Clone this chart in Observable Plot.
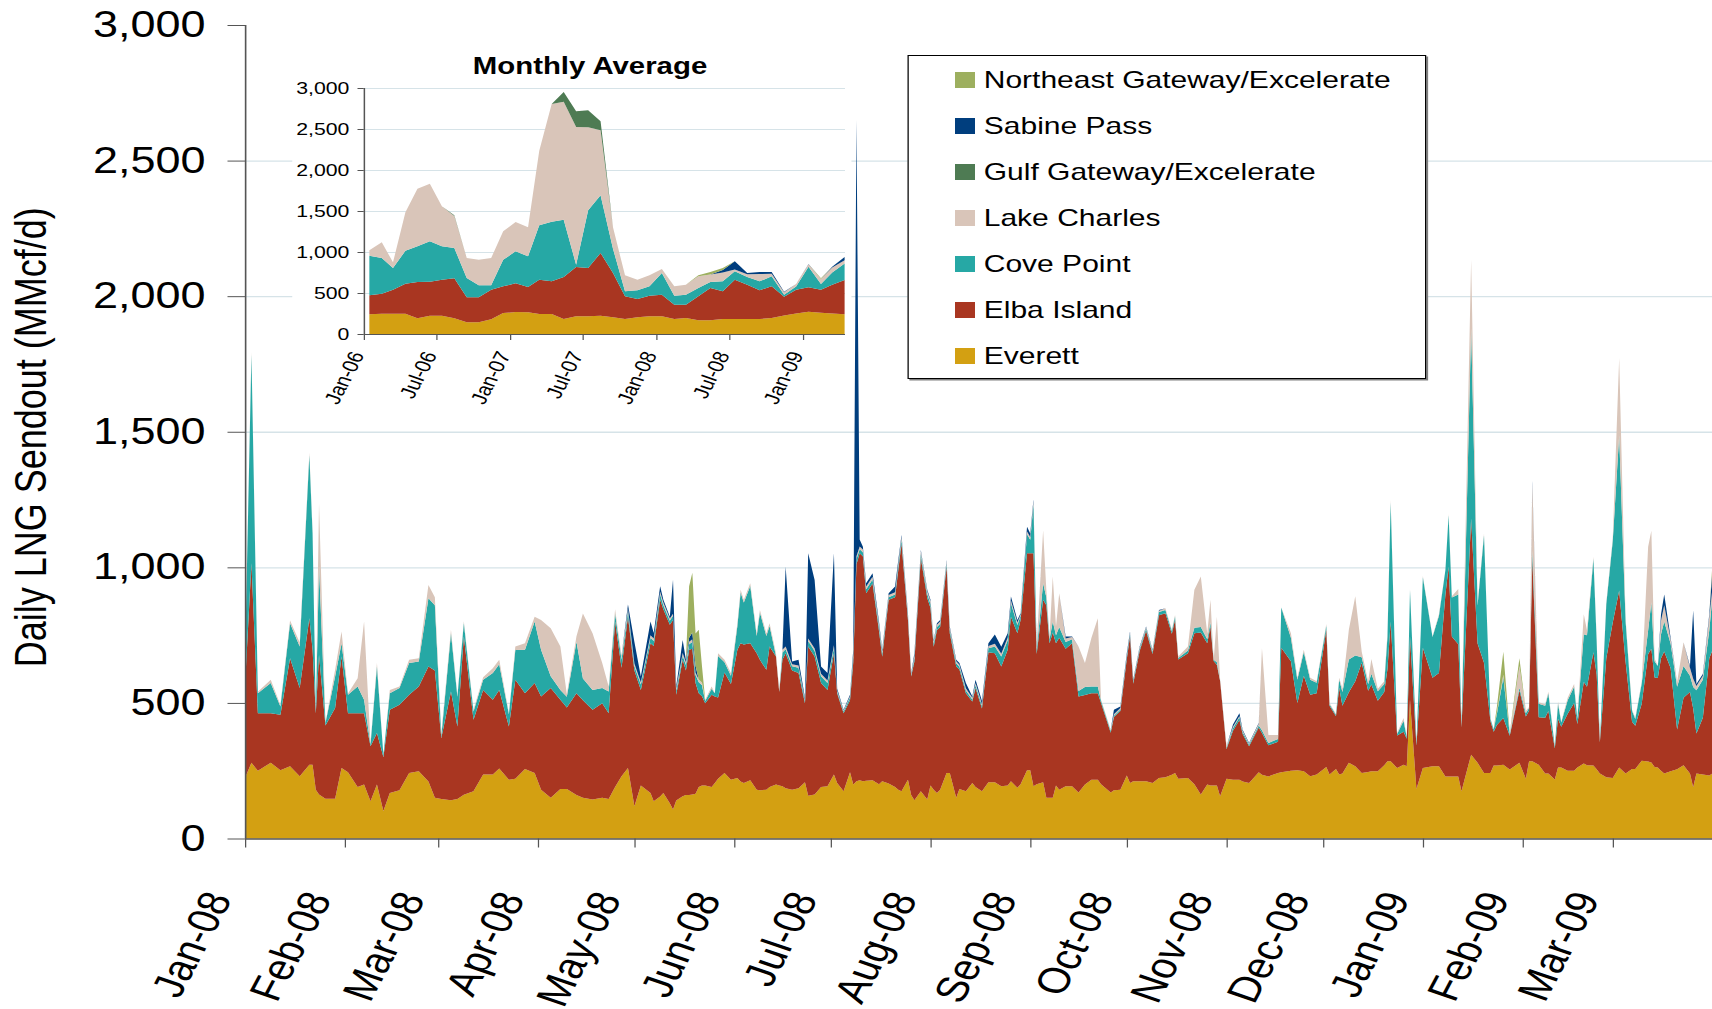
<!DOCTYPE html>
<html><head><meta charset="utf-8">
<script src="https://cdn.jsdelivr.net/npm/d3@7"></script>
<script src="https://cdn.jsdelivr.net/npm/@observablehq/plot@0.6"></script>
<style>
html,body{margin:0;padding:0;background:#fff;overflow:hidden;}
#stage{position:relative;width:1370px;height:1009px;transform:scaleX(1.25);transform-origin:0 0;font-family:"Liberation Sans",Arial,sans-serif;}
#main{position:absolute;left:0;top:0;}
#inset{position:absolute;left:234px;top:40px;background:#fff;}
#legend{position:absolute;left:726px;top:55px;width:415px;height:324px;box-sizing:border-box;border:1px solid #000;box-shadow:1.5px 1.5px 0 #808080;background:#fff;padding-top:1px;}
.row{height:46px;display:flex;align-items:center;}
.sw{width:16px;height:16px;margin-left:37px;margin-right:7px;flex:none;}
.lab{font-size:24px;color:#000;white-space:nowrap;}
</style></head>
<body><div id="stage"><div id="main"></div><div id="inset"></div><div id="legend"></div></div>
<script>
// ---------- categories / series ----------
const seriesNames = ["Everett","Elba Island","Cove Point","Lake Charles","Gulf Gateway/Excelerate","Sabine Pass","Northeast Gateway/Excelerate"];
const seriesColors = ["#D3A012","#A93621","#26A8A5","#D9C5B9","#4E7B53","#003E7E","#9DAF5F"];
const legendOrder = ["Northeast Gateway/Excelerate","Sabine Pass","Gulf Gateway/Excelerate","Lake Charles","Cove Point","Elba Island","Everett"];
const yTicks = [0,500,1000,1500,2000,2500,3000];
const xTickMonths = ["2008-01-01","2008-02-01","2008-03-01","2008-04-01","2008-05-01","2008-06-01","2008-07-01","2008-08-01","2008-09-01","2008-10-01","2008-11-01","2008-12-01","2009-01-01","2009-02-01","2009-03-01"];
const insetXTickMonths = ["2006-01-01","2006-07-01","2007-01-01","2007-07-01","2008-01-01","2008-07-01","2009-01-01"];
const insetYTicks = [0,500,1000,1500,2000,2500,3000];

// ---------- daily sendout (MMcf/d), days counted from 2008-01-01 ----------
const dailyStart = "2008-01-01";
const dailyEnd = "2009-04-01";
const dayOffset = [
0,2,4,8,11,14,17,20,21,22,
23,25,28,30,32,35,37,39,41,43,
45,48,51,54,57,59,61,64,66,68,
71,74,77,79,82,84,87,90,92,95,
98,100,103,105,108,111,113,115,117,119,
121,123,126,127,129,130,132,133,134,136,
137,138,139,140,141,142,143,145,146,147,
149,151,153,154,155,157,159,160,162,163,
165,166,167,168,170,172,174,175,177,179,
181,183,184,186,188,189,190,191,192,193,
195,197,198,200,202,203,204,206,207,208,
210,212,213,214,215,216,218,219,221,222,
224,226,227,229,231,233,235,237,238,240,
241,243,244,245,246,248,249,250,251,252,
253,255,257,259,261,263,265,266,269,270,
272,274,275,276,278,280,282,284,286,288,
289,290,293,295,297,299,300,301,302,303,
305,307,309,310,312,315,316,318,321,322,
325,327,329,331,333,336,337,339,340,341,
343,345,347,349,350,352,354,355,356,358,
360,361,362,364,366,369,371,373,374,375,
377,378,381,383,385,387,388,389,391,393,
396,398,399,400,402,404,405,407,408,409,
411,413,414,416,417,419,420,421,423,425,
427,429,431,432,434,436,437,438,439,440,
441,443,445,447,449,450,451,453,455,456];
const everett = [
223,279,250,279,252,266,230,272,272,180,
162,147,147,260,244,190,199,137,199,101,
168,178,242,248,210,150,146,141,146,161,
174,236,236,258,217,220,256,242,180,150,
183,183,160,150,144,150,146,190,230,260,
119,195,168,137,155,168,130,107,140,156,
160,160,162,165,190,195,195,190,205,220,
242,217,223,210,205,215,180,178,180,190,
199,195,193,185,180,185,207,158,162,190,
193,236,205,174,244,199,211,215,211,213,
215,200,211,203,190,180,174,217,160,141,
174,144,195,180,168,180,242,242,150,183,
174,205,190,174,207,207,193,195,211,187,
200,252,252,193,200,207,150,150,150,195,
180,193,193,170,199,217,217,200,170,178,
180,232,205,211,211,211,205,223,226,235,
242,220,223,200,162,199,195,195,195,156,
220,217,217,210,205,244,235,229,242,244,
250,252,248,230,236,264,236,256,236,240,
279,266,242,245,248,248,270,285,285,260,
272,266,512,183,260,266,266,229,229,229,
229,174,309,279,242,242,269,269,272,254,
279,220,285,285,272,240,240,218,262,262,
250,250,262,277,270,269,255,240,226,223,
262,240,256,256,287,284,280,264,262,250,
240,248,255,270,240,189,240,236,232,240];
const elbaIsland = [
340,736,212,183,204,399,325,540,424,282,
515,270,334,411,218,272,263,203,190,200,
307,315,288,313,424,470,225,401,267,584,
264,312,276,290,196,365,280,331,344,405,
329,300,376,360,331,349,316,610,400,558,
501,353,552,573,725,677,658,699,390,503,
460,536,538,408,346,330,304,340,319,300,
370,353,473,510,510,505,503,481,442,518,
472,345,467,498,440,425,292,550,509,383,
355,447,331,288,266,450,800,837,830,691,
725,565,459,677,700,810,914,589,437,512,
860,743,655,527,600,600,760,515,484,440,
362,300,365,305,480,476,441,501,607,570,
606,800,800,859,480,673,710,570,610,525,
560,507,527,354,330,319,319,300,220,270,
290,430,540,360,480,555,475,600,605,520,
565,440,460,557,598,521,587,460,445,425,
110,180,220,175,135,165,154,115,115,459,
404,248,352,300,300,506,254,195,320,250,
260,314,406,300,320,260,270,340,514,120,
122,102,233,160,443,327,344,670,773,516,
487,236,871,440,406,190,125,150,172,125,
267,230,186,747,175,205,230,115,180,150,
210,250,160,300,290,418,350,115,439,574,
653,411,175,160,210,396,420,330,330,415,
450,380,147,249,300,290,147,209,433,455];
const covePoint = [
100,769,74,111,31,129,153,601,429,10,
325,9,116,49,68,99,50,6,245,8,
61,62,117,92,252,240,6,215,110,50,
30,37,98,95,45,110,160,227,172,43,
36,40,190,80,73,56,80,30,30,20,
15,20,20,18,20,15,15,15,15,15,
20,20,25,30,40,40,8,22,12,153,
38,30,88,187,155,211,64,174,125,76,
2,3,26,15,15,20,8,20,20,25,
25,20,5,6,10,20,20,15,15,15,
15,15,12,10,10,15,15,10,5,12,
15,15,15,12,12,12,12,12,12,10,
10,8,10,10,15,25,37,35,50,30,
15,70,50,180,15,61,30,15,40,30,
40,25,15,20,30,25,25,8,6,5,
6,8,8,6,8,8,8,12,12,10,
12,6,10,20,20,15,15,4,10,2,
5,10,10,8,6,8,10,8,10,149,
86,85,88,55,38,15,5,5,30,50,
121,95,20,25,40,35,30,120,440,5,
40,5,171,6,260,150,211,90,190,144,
184,4,701,140,470,10,8,40,150,5,
10,12,10,29,50,45,65,6,55,16,
50,60,20,176,190,345,125,2,200,300,
571,150,40,25,75,88,171,60,44,88,
110,90,158,117,60,80,160,140,103,200];
const lakeCharles = [
5,10,5,12,5,10,15,10,10,0,
233,0,25,43,5,30,288,5,13,0,
12,6,12,12,49,30,12,13,5,6,
7,10,18,16,4,13,24,18,110,177,
160,10,20,240,209,92,19,15,15,10,
10,8,10,10,10,10,8,8,8,10,
10,10,10,8,10,10,5,9,0,10,
9,10,10,10,10,10,10,10,10,10,
10,5,10,10,8,8,5,10,10,10,
10,10,5,4,5,10,10,10,10,10,
10,10,8,8,8,10,10,8,5,8,
10,10,10,8,8,8,8,8,8,8,
8,6,8,6,8,10,10,10,10,10,
5,10,10,10,8,196,27,10,166,32,
124,13,8,164,88,178,251,4,5,5,
5,5,5,4,5,5,5,5,6,5,
5,5,15,140,186,21,83,0,168,2,
5,5,5,4,3,6,303,30,15,0,
17,8,8,8,6,6,5,3,7,12,
110,218,21,10,54,9,10,12,9,4,
10,2,4,2,5,2,6,0,5,4,
20,2,253,7,7,2,2,6,10,3,
80,9,4,247,5,5,6,3,7,3,
9,10,3,74,18,7,9,1,6,8,
286,11,4,4,5,308,264,11,0,50,
60,15,17,88,30,30,15,15,50,30];
const sabinePass = [
0,0,0,0,0,0,0,0,0,0,
0,0,0,0,0,0,0,0,0,0,
0,0,0,0,0,0,0,0,0,0,
0,0,0,0,0,0,0,0,0,0,
0,0,0,0,0,0,0,0,0,15,
80,21,50,20,20,10,7,125,8,48,
9,14,25,25,0,0,0,0,0,0,
0,0,0,0,0,0,0,0,0,0,
0,0,0,294,10,21,7,314,252,26,
27,339,7,3,5,17,1609,26,10,12,
13,10,6,6,21,12,6,7,3,10,
5,5,5,5,6,6,5,5,5,6,
19,5,12,12,10,34,26,16,14,9,
5,18,13,8,5,0,0,0,0,0,
0,7,2,0,0,0,0,0,0,17,
6,8,5,4,4,3,3,3,0,0,
0,0,0,0,0,0,0,0,0,0,
0,8,10,4,3,3,0,0,0,0,
0,0,0,0,0,0,0,0,0,0,
0,0,0,0,0,0,0,0,0,0,
0,0,0,0,0,0,0,0,0,0,
0,0,0,0,0,0,0,0,0,0,
0,0,0,10,0,0,0,0,0,0,
0,0,0,0,0,0,0,0,0,0,
0,0,0,0,0,0,0,0,0,24,
40,6,0,0,6,252,8,7,9,70];
const northeastGateway = [
0,0,0,0,0,0,0,0,0,0,
0,0,0,0,0,0,0,0,0,0,
0,0,0,0,0,0,0,0,0,0,
0,0,0,0,0,0,0,0,0,0,
0,0,0,0,0,0,0,0,0,0,
0,0,0,0,0,0,0,0,0,0,
0,190,220,120,184,60,0,0,0,0,
0,0,0,0,0,0,0,0,0,0,
0,0,0,0,0,0,0,0,0,0,
0,0,0,0,0,0,0,0,0,0,
0,0,0,0,0,0,0,0,0,0,
0,0,0,0,0,0,0,0,0,0,
0,0,0,0,0,0,0,0,0,0,
0,0,0,0,0,0,0,0,0,0,
0,0,0,0,0,0,0,0,0,0,
0,0,0,0,0,0,0,0,0,0,
0,0,0,0,0,0,0,0,0,0,
0,0,0,0,0,0,0,0,0,0,
0,0,0,0,0,0,0,0,0,0,
0,0,0,0,0,0,0,0,0,0,
0,0,0,0,0,0,0,0,0,0,
0,0,0,0,0,0,0,20,85,2,
29,0,0,0,0,0,0,0,0,0,
0,0,0,0,0,0,0,0,0,0,
0,0,0,0,0,0,0,0,0,0,
0,0,0,0,0,0,0,0,0,22];

// ---------- monthly averages Jan-06 .. Apr-09 ----------
const insetStartYear = 2006;
const mEverett = [240,248,248,248,191,224,224,191,142,142, 180,256,268,264,244,244,183,215,215,224, 203,183,203,215,215,183,195,167,167,183, 183,183,183,195,225,250,270,260,250,240];
const mElba    = [232,244,292,366,443,414,439,488,305,305, 360,325,350,309,419,398,512,602,590,764, 541,276,224,252,265,175,163,292,394,337, 480,419,350,386,230,290,300,280,350,420];
const mCove    = [483,435,265,402,435,492,406,370,236,146, 53,325,390,374,662,728,699,29,703,703, 297,61,106,114,264,109,122,102,73,122, 101,93,109,122,25,40,250,70,150,200];
const mLake    = [65,191,69,468,703,703,488,390,244,313, 334,346,358,354,911,1435,1439,1678,1012,793, 260,195,130,134,49,114,122,144,92,108, 22,34,89,33,30,30,30,60,60,40];
const mGulf    = [0,0,0,0,0,0,0,8,0,0, 0,0,0,0,0,0,118,191,208,110, 0,0,0,0,0,0,0,0,0,0, 0,0,0,0,0,0,0,0,0,0];
const mSabine  = [0,0,0,0,0,0,0,0,0,0, 0,0,0,0,0,0,0,0,0,0, 0,0,0,0,0,0,0,0,0,30, 100,15,25,20,5,0,5,0,10,40];
const mNortheast=[0,0,0,0,0,0,0,0,0,0, 0,0,0,0,0,0,0,0,0,0, 0,0,0,0,0,0,0,10,30,25, 0,0,0,0,0,0,0,10,0,0];

// ---------- build tables ----------
const DAY = 864e5;
const t0 = new Date(dailyStart + "T00:00:00Z").getTime();
const dailyDates = dayOffset.map(d => new Date(t0 + d * DAY));
const dailyCols = [["Everett",everett],["Elba Island",elbaIsland],["Cove Point",covePoint],["Lake Charles",lakeCharles],["Sabine Pass",sabinePass],["Northeast Gateway/Excelerate",northeastGateway]];
const daily = [];
dailyDates.forEach((date,i) => { for (const [s,arr] of dailyCols) daily.push({date, series:s, value:arr[i]}); });

const monthCols = [["Everett",mEverett],["Elba Island",mElba],["Cove Point",mCove],["Lake Charles",mLake],["Gulf Gateway/Excelerate",mGulf],["Sabine Pass",mSabine],["Northeast Gateway/Excelerate",mNortheast]];
const monthly = [];
mEverett.forEach((_,k) => { const date = new Date(Date.UTC(insetStartYear, k, 15)); for (const [s,arr] of monthCols) monthly.push({date, series:s, value:arr[k]}); });

const fmtMonth = d3.utcFormat("%b-%y");
const toDate = s => new Date(s + "T00:00:00Z");
const font = "Liberation Sans, Arial, sans-serif";
const axisColor = "#555";
const gridColor = "#d6e3e8";

// ---------- main chart ----------
const xTicks = xTickMonths.map(toDate);
const main = Plot.plot({
  width: 1370, height: 1009,
  marginLeft: 196, marginRight: 0, marginTop: 25, marginBottom: 170.5,
  style: {fontFamily: font, background: "transparent", color: "#000", overflow: "visible"},
  x: {type: "utc", domain: [toDate(dailyStart), toDate(dailyEnd)]},
  y: {domain: [0, 3000]},
  color: {domain: seriesNames, range: seriesColors},
  marks: [
    Plot.gridY(yTicks.filter(d => d > 0 && d < 3000), {stroke: gridColor, strokeOpacity: 1, strokeWidth: 1.3}),
    Plot.areaY(daily, {x: "date", y: "value", fill: "series", order: seriesNames, curve: "linear"}),
    Plot.ruleY([0], {stroke: axisColor, strokeWidth: 1.3}),
    Plot.ruleX([toDate(dailyStart)], {stroke: axisColor, strokeWidth: 1.3}),
    Plot.axisY(yTicks, {tickSize: 14, tickPadding: 18, fontSize: 36, tickFormat: d3.format(","), label: null, stroke: axisColor}),
    Plot.axisX(xTicks, {tickSize: 9, tickFormat: () => "", label: null, stroke: axisColor}),
    Plot.text(xTicks, {x: d => d, text: d => fmtMonth(d), frameAnchor: "bottom", rotate: -67, textAnchor: "end", lineAnchor: "middle", dx: -21, dy: 55, fontSize: 36, fill: "#000"}),
    Plot.text(["Daily LNG Sendout (MMcf/d)"], {text: d => d, frameAnchor: "left", rotate: -90, textAnchor: "middle", lineAnchor: "middle", dx: -171, dy: 5, fontSize: 36, fill: "#000"})
  ]
});
document.getElementById("main").appendChild(main);

// ---------- inset ----------
const ixTicks = insetXTickMonths.map(toDate);
const inset = Plot.plot({
  width: 447, height: 375,
  marginLeft: 57, marginRight: 5, marginTop: 48, marginBottom: 81,
  style: {fontFamily: font, background: "#fff", color: "#000", overflow: "visible"},
  x: {type: "utc", domain: [toDate("2006-01-01"), toDate("2009-04-16")]},
  y: {domain: [0, 3000]},
  color: {domain: seriesNames, range: seriesColors},
  marks: [
    Plot.gridY(insetYTicks.filter(d => d > 0), {stroke: gridColor, strokeOpacity: 1, strokeWidth: 1.2}),
    Plot.areaY(monthly, {x: "date", y: "value", fill: "series", order: seriesNames, curve: "linear"}),
    Plot.ruleY([0], {stroke: axisColor, strokeWidth: 1.2}),
    Plot.ruleX([toDate("2006-01-01")], {stroke: axisColor, strokeWidth: 1.2}),
    Plot.axisY(insetYTicks, {tickSize: 5, tickPadding: 7, fontSize: 17, tickFormat: d3.format(","), label: null, stroke: axisColor}),
    Plot.axisX(ixTicks, {tickSize: 6, tickFormat: () => "", label: null, stroke: axisColor}),
    Plot.text(ixTicks, {x: d => d, text: d => fmtMonth(d), frameAnchor: "bottom", rotate: -67, textAnchor: "end", lineAnchor: "middle", dx: -5, dy: 18, fontSize: 18, fill: "#000"}),
    Plot.text(["Monthly Average"], {text: d => d, frameAnchor: "top", dx: -12, dy: -31, fontSize: 23.5, fontWeight: "bold", fill: "#000"})
  ]
});
document.getElementById("inset").appendChild(inset);

// ---------- legend ----------
const legend = document.getElementById("legend");
for (const name of legendOrder) {
  const row = document.createElement("div"); row.className = "row";
  const sw = document.createElement("div"); sw.className = "sw"; sw.style.background = seriesColors[seriesNames.indexOf(name)];
  const lab = document.createElement("div"); lab.className = "lab"; lab.textContent = name;
  row.appendChild(sw); row.appendChild(lab); legend.appendChild(row);
}
</script></body></html>
